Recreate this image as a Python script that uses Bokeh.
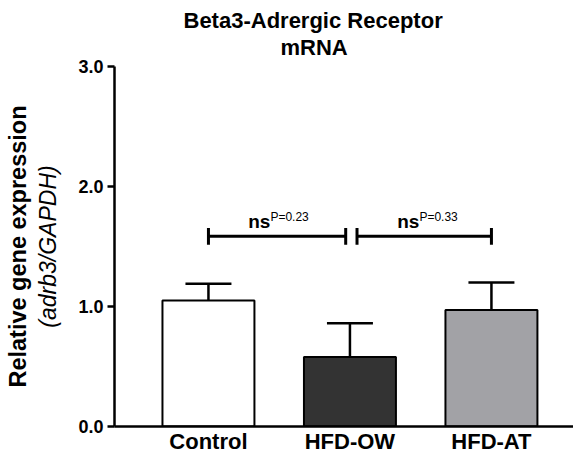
from bokeh.plotting import figure
from bokeh.models import Range1d, LinearAxis, FixedTicker, Title, ColumnDataSource
from bokeh.core.properties import value
from bokeh.embed import file_html
from bokeh.resources import INLINE

categories = ["Control", "HFD-OW", "HFD-AT"]
means = [1.05, 0.58, 0.97]
sems = [0.14, 0.28, 0.23]
colors = ["#ffffff", "#333333", "#a2a2a6"]

# significance comparisons
cmp_x0 = [0.0, 1.05]
cmp_x1 = [0.97, 2.0]
cmp_y = [1.585, 1.585]
cmp_label = ["ns", "ns"]
cmp_p = ["P=0.23", "P=0.33"]
label_x = [0.438, 1.491]

FONT = "Liberation Sans"
xs = list(range(len(categories)))

p = figure(width=573, height=456, output_backend="svg", toolbar_location=None,
           x_range=Range1d(-0.664, 2.58), y_range=Range1d(0, 3.0),
           min_border_left=114, min_border_right=0, min_border_top=66, min_border_bottom=28,
           y_axis_location=None, x_axis_location=None)
p.outline_line_color = None
p.xgrid.visible = False
p.ygrid.visible = False

# titles
p.title.text = "Beta3-Adrergic Receptor"
p.title.align = "left"
p.title.offset = 69
p.title.text_font = FONT
p.title.text_font_size = "22px"
p.title.text_font_style = "bold"
p.title.text_color = "black"
p.title.standoff = -14
t2 = Title(text="mRNA", align="left", offset=166, text_font=FONT, text_color="black",
           text_font_size="22px", text_font_style="bold", standoff=14)
p.add_layout(t2, "above")

# y axis (inner, with ticks)
ya = LinearAxis(ticker=FixedTicker(ticks=[0, 1, 2, 3]), axis_label="(adrb3/GAPDH)")
ya.major_label_overrides = {0: "0.0", 1: "1.0", 2: "2.0", 3: "3.0"}
ya.axis_line_width = 2.5
ya.major_tick_line_width = 2.5
ya.major_tick_out = 7
ya.major_tick_in = 0
ya.minor_tick_line_color = None
ya.major_label_text_font = FONT
ya.major_label_text_font_style = "bold"
ya.major_label_text_font_size = "18px"
ya.major_label_text_color = "black"
ya.major_label_standoff = 4
ya.axis_label_text_font = FONT
ya.axis_label_text_font_style = "italic"
ya.axis_label_text_font_size = "23px"
ya.axis_label_text_color = "black"
ya.axis_label_standoff = 14
p.add_layout(ya, "left")

# outer y axis carrying the bold label only
ya2 = LinearAxis(ticker=FixedTicker(ticks=[]), axis_label="Relative gene expression")
ya2.axis_line_color = None
ya2.major_tick_line_color = None
ya2.minor_tick_line_color = None
ya2.major_tick_out = 0
ya2.axis_label_text_font = FONT
ya2.axis_label_text_font_style = "bold"
ya2.axis_label_text_font_size = "23.5px"
ya2.axis_label_text_color = "black"
ya2.axis_label_standoff = 2
p.add_layout(ya2, "left")

# x axis
xa = LinearAxis(ticker=FixedTicker(ticks=xs))
xa.major_label_overrides = {i: c for i, c in enumerate(categories)}
xa.axis_line_width = 2.5
xa.major_tick_line_color = None
xa.minor_tick_line_color = None
xa.major_tick_out = 0
xa.major_label_standoff = 2
xa.major_label_text_font = FONT
xa.major_label_text_font_style = "bold"
xa.major_label_text_font_size = "22px"
xa.major_label_text_color = "black"
p.add_layout(xa, "below")

# error bars (upper only)
tops = [m + s for m, s in zip(means, sems)]
cap_w = 0.1625
p.segment(x0=xs, y0=means, x1=xs, y1=tops, line_color="black", line_width=2.5)
p.segment(x0=[x - cap_w for x in xs], y0=tops, x1=[x + cap_w for x in xs], y1=tops,
          line_color="black", line_width=2.5)

# bars
src = ColumnDataSource(dict(x=xs, top=means, color=colors))
p.vbar(x="x", top="top", bottom=0, width=0.65, source=src, fill_color="color",
       line_color="black", line_width=2)

# significance brackets
tick_h = 0.07
p.segment(x0=cmp_x0, y0=cmp_y, x1=cmp_x1, y1=cmp_y, line_color="black", line_width=3)
p.segment(x0=cmp_x0, y0=[y - tick_h for y in cmp_y], x1=cmp_x0, y1=[y + tick_h for y in cmp_y],
          line_color="black", line_width=3)
p.segment(x0=cmp_x1, y0=[y - tick_h for y in cmp_y], x1=cmp_x1, y1=[y + tick_h for y in cmp_y],
          line_color="black", line_width=3)
p.text(x=label_x, y=[y + 0.12 for y in cmp_y], text=cmp_label, text_align="right",
       text_baseline="alphabetic", text_font=value(FONT), text_font_style="bold",
       text_font_size="19px", text_color="black")
p.text(x=label_x, y=[y + 0.165 for y in cmp_y], text=cmp_p, text_align="left",
       text_baseline="alphabetic", text_font=value(FONT),
       text_font_size="12px", text_color="black")

open("out.html", "w").write(file_html(p, INLINE))
